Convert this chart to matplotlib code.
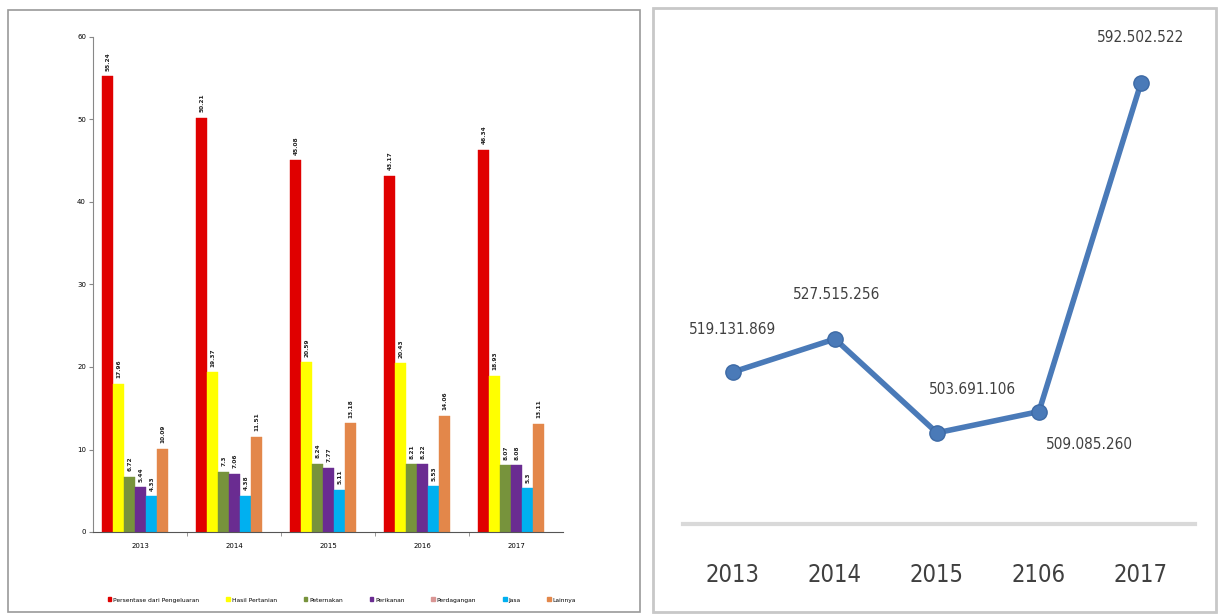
import matplotlib
matplotlib.use("Agg")
import matplotlib.pyplot as plt
from matplotlib.patches import Rectangle, Patch

# ---- data: share by sector (left) ----
years = ["2013", "2014", "2015", "2016", "2017"]
series_names = ["Persentase dari Pengeluaran", "Hasil Pertanian", "Peternakan",
                "Perikanan", "Perdagangan", "Jasa", "Lainnya"]
pct_main = [55.24, 50.21, 45.08, 43.17, 46.34]
pct_pertanian = [17.96, 19.37, 20.59, 20.43, 18.93]
pct_peternakan = [6.72, 7.3, 8.24, 8.21, 8.07]
pct_perikanan = [5.44, 7.06, 7.77, 8.22, 8.08]
pct_jasa = [4.33, 4.38, 5.11, 5.53, 5.3]
pct_lainnya = [10.09, 11.51, 13.18, 14.06, 13.11]

# ---- data: yearly totals (right) ----
total_years = ["2013", "2014", "2015", "2106", "2017"]
totals = [519131869, 527515256, 503691106, 509085260, 592502522]

W, H = 1218, 615
fig = plt.figure(figsize=(W / 100, H / 100), dpi=100)
fig.patch.set_facecolor("white")


def px(x0, y0, x1, y1):
    return [x0 / W, 1 - y1 / H, (x1 - x0) / W, (y1 - y0) / H]


# panel frames
fig.patches.append(Rectangle((8 / W, 1 - 612 / H), 632 / W, 602 / H,
                             transform=fig.transFigure, fill=False,
                             edgecolor="#9a9a9a", linewidth=1.2))
fig.patches.append(Rectangle((653 / W, 1 - 612 / H), 563 / W, 604 / H,
                             transform=fig.transFigure, fill=False,
                             edgecolor="#c8c8c8", linewidth=2.0))

# ---- left: grouped bars ----
ax = fig.add_axes(px(93, 37, 563, 532))
bar_series = [
    (pct_main, "#e00000", series_names[0]),
    (pct_pertanian, "#ffff00", series_names[1]),
    (pct_peternakan, "#77933c", series_names[2]),
    (pct_perikanan, "#6a2c91", series_names[3]),
    (pct_jasa, "#00b0f0", series_names[5]),
    (pct_lainnya, "#e3874a", series_names[6]),
]
bw = 0.117
n = len(bar_series)
xs = list(range(len(years)))
for i, (vals, col, name) in enumerate(bar_series):
    off = (i - (n - 1) / 2) * bw - 0.05
    pos = [x + off for x in xs]
    ax.bar(pos, vals, width=bw, color=col, edgecolor=col, linewidth=0.3, zorder=2)
    for p, v in zip(pos, vals):
        ax.annotate(f"{v:g}", (p, v), xytext=(0, 4), textcoords="offset points",
                    rotation=90, ha="center", va="bottom", fontsize=4.2,
                    fontweight="bold", color="#222222")

ax.set_ylim(0, 60)
ax.set_xlim(-0.5, len(years) - 0.5)
ax.set_yticks(range(0, 61, 10))
ax.tick_params(axis="y", labelsize=5, length=3, color="#888888", pad=2)
ax.set_xticks(xs)
ax.set_xticklabels(years, fontsize=5)
ax.tick_params(axis="x", length=0, pad=8)
ax.set_xticks([x + 0.5 for x in xs[:-1]], minor=True)
ax.tick_params(axis="x", which="minor", length=3, color="#888888")
for s in ("top", "right"):
    ax.spines[s].set_visible(False)
ax.spines["left"].set_color("#888888")
ax.spines["bottom"].set_color("#555555")
ax.spines["left"].set_linewidth(0.8)
ax.spines["bottom"].set_linewidth(0.8)

legend_colors = ["#e00000", "#ffff00", "#77933c", "#6a2c91", "#d99694", "#00b0f0", "#e3874a"]
handles = [Patch(facecolor=c, edgecolor=c) for c in legend_colors]
fig.legend(handles, series_names, loc="center", ncol=7, frameon=False,
           fontsize=4.3, bbox_to_anchor=(342 / W, 1 - 600 / H),
           handlelength=0.6, handleheight=0.6, handletextpad=0.3, columnspacing=4.5)

# ---- right: line of totals ----
ax2 = fig.add_axes(px(683, 20, 1195, 524))
y_per_px = (totals[4] - totals[0]) / (372 - 83)
ax2.set_ylim(totals[0] - (524 - 372) * y_per_px, totals[0] + (372 - 20) * y_per_px)
ax2.set_xlim(-0.49, 4.53)
tx = list(range(len(totals)))
ax2.plot(tx, totals, color="#4a7ab8", linewidth=4, marker="o", markersize=11,
         markerfacecolor="#4a7ab8", markeredgecolor="#3d6aa5", zorder=3)
narrow = dict(family="DejaVu Sans", stretch="condensed")
offsets = [(0, 43), (2, 44), (36, 43), (50, -33), (0, 46)]
for x, v, (dx, dy) in zip(tx, totals, offsets):
    ax2.annotate(f"{v:,}".replace(",", "."), (x, v), xytext=(dx * 0.72, dy * 0.72),
                 textcoords="offset points", ha="center", va="center",
                 fontsize=11, color="#404040", **narrow)
ax2.set_xticks(tx)
ax2.set_xticklabels(total_years, fontsize=17, color="#404040", **narrow)
ax2.tick_params(axis="x", length=0, pad=28)
ax2.set_yticks([])
for s in ("top", "right", "left"):
    ax2.spines[s].set_visible(False)
ax2.spines["bottom"].set_color("#d9d9d9")
ax2.spines["bottom"].set_linewidth(3)
ax2.patch.set_alpha(0)

fig.savefig("out.png", dpi=100, facecolor="white")
